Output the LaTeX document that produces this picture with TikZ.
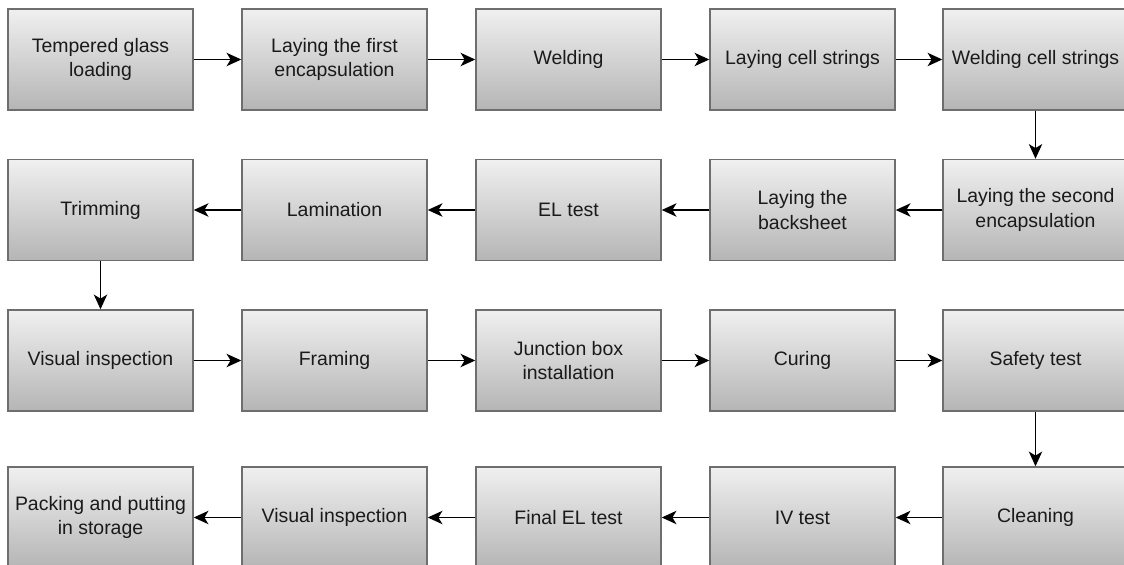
\documentclass[tikz,border=0pt]{standalone}
\usepackage{fontspec}
\setmainfont{Liberation Sans}
\usetikzlibrary{arrows.meta}
\definecolor{boxtop}{HTML}{F0F0F0}
\definecolor{boxbot}{HTML}{B5B5B5}
\definecolor{boxline}{HTML}{6E6E6E}
\definecolor{txt}{HTML}{1A1A1A}
\tikzset{
  stepbox/.style={draw=boxline, line width=1.1pt, top color=boxtop, bottom color=boxbot,
    minimum width=138.75pt, minimum height=75.75pt, inner sep=0pt, align=center,
    text=txt, font=\fontsize{14.6}{18.5}\selectfont},
  flow/.style={draw=black, line width=1.2pt, -{Stealth[length=11pt,width=10pt,inset=3pt]}}
}
\begin{document}
\begin{tikzpicture}[x=0.75pt,y=-0.75pt]
\useasboundingbox (0,0) rectangle (1124,564);
\clip (0,0) rectangle (1124,564);
\fill[white] (0,0) rectangle (1124,564);
% row 1
\node[stepbox] (a1) at (100.5,59.5) {Tempered glass\\loading};
\node[stepbox] (a2) at (334.5,59.5) {Laying the first\\encapsulation};
\node[stepbox] (a3) at (568.5,59.5) {Welding};
\node[stepbox] (a4) at (802.5,59.5) {Laying cell strings};
\node[stepbox] (a5) at (1035.5,59.5) {Welding cell strings};
% row 2
\node[stepbox] (b5) at (1035.5,210) {Laying the second\\encapsulation};
\node[stepbox] (b4) at (802.5,210) {Laying the\\backsheet};
\node[stepbox] (b3) at (568.5,210) {EL test};
\node[stepbox] (b2) at (334.5,210) {Lamination};
\node[stepbox] (b1) at (100.5,210) {Trimming};
% row 3
\node[stepbox] (c1) at (100.5,360.5) {Visual inspection};
\node[stepbox] (c2) at (334.5,360.5) {Framing};
\node[stepbox] (c3) at (568.5,360.5) {Junction box\\installation};
\node[stepbox] (c4) at (802.5,360.5) {Curing};
\node[stepbox] (c5) at (1035.5,360.5) {Safety test};
% row 4
\node[stepbox] (d5) at (1035.5,517.5) {Cleaning};
\node[stepbox] (d4) at (802.5,517.5) {IV test};
\node[stepbox] (d3) at (568.5,517.5) {Final EL test};
\node[stepbox] (d2) at (334.5,517.5) {Visual inspection};
\node[stepbox] (d1) at (100.5,517.5) {Packing and putting\\in storage};
% connectors
\draw[flow] (a1) -- (a2);
\draw[flow] (a2) -- (a3);
\draw[flow] (a3) -- (a4);
\draw[flow] (a4) -- (a5);
\draw[flow] (a5) -- (b5);
\draw[flow] (b5) -- (b4);
\draw[flow] (b4) -- (b3);
\draw[flow] (b3) -- (b2);
\draw[flow] (b2) -- (b1);
\draw[flow] (b1) -- (c1);
\draw[flow] (c1) -- (c2);
\draw[flow] (c2) -- (c3);
\draw[flow] (c3) -- (c4);
\draw[flow] (c4) -- (c5);
\draw[flow] (c5) -- (d5);
\draw[flow] (d5) -- (d4);
\draw[flow] (d4) -- (d3);
\draw[flow] (d3) -- (d2);
\draw[flow] (d2) -- (d1);
\end{tikzpicture}
\end{document}
